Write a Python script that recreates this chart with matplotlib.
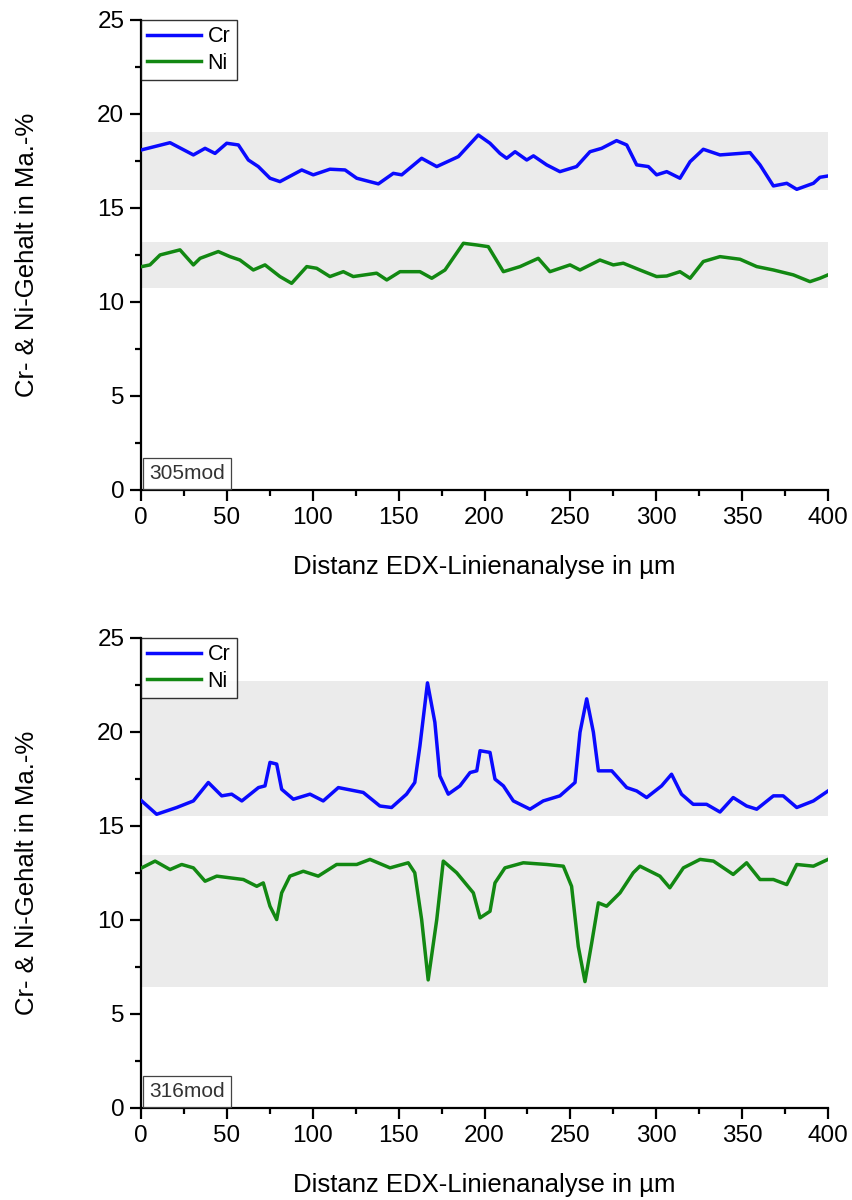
import matplotlib
matplotlib.use("Agg")
import matplotlib.pyplot as plt
from matplotlib.ticker import MultipleLocator

plt.rcParams['font.family'] = ['Liberation Sans', 'DejaVu Sans']

# ---- Data: 305mod (top) ----
x_cr_305 = [0.4, 16.9, 30.5, 37.3, 43.1, 49.9, 56.7, 62.5, 68.3, 75.1, 80.9, 93.6, 100.3, 110, 118.8,
            125.6, 138.2, 146.9, 151.8, 163.4, 172.2, 184.8, 196.4, 203.2, 209, 212.9, 217.8, 224.6,
            228.5, 236.2, 243.9, 253.6, 261.4, 268.2, 276.9, 282.8, 288.6, 295.4, 300.2, 306.1, 313.8,
            319.7, 327.4, 337.1, 348.8, 354.6, 360.4, 368.2, 376, 381.8, 391.5, 395.3, 400]
y_cr_305 = [18.09, 18.47, 17.82, 18.17, 17.9, 18.44, 18.35, 17.55, 17.2, 16.58, 16.4, 17.02, 16.76,
            17.06, 17.02, 16.58, 16.28, 16.84, 16.76, 17.64, 17.2, 17.73, 18.88, 18.44, 17.9, 17.64,
            17.99, 17.55, 17.77, 17.29, 16.93, 17.2, 17.99, 18.17, 18.58, 18.35, 17.29, 17.2, 16.76,
            16.93, 16.58, 17.46, 18.12, 17.82, 17.9, 17.94, 17.29, 16.17, 16.31, 15.99, 16.31, 16.63, 16.7]

x_ni_305 = [0.4, 5.2, 11.1, 22.7, 30.5, 34.4, 45, 51.8, 57.6, 65.4, 72.2, 80.9, 87.7, 96.5, 102.3,
            110, 117.8, 123.6, 137.2, 143.1, 150.8, 162.4, 169.3, 177, 187.7, 195.5, 202.2, 211,
            220.7, 231.3, 238.1, 249.8, 255.6, 267.2, 275, 280.8, 290.5, 300.2, 306.1, 313.8, 319.7,
            327.4, 337.1, 348.8, 358.5, 368.2, 379.8, 389.5, 395.3, 400]
y_ni_305 = [11.88, 11.97, 12.5, 12.77, 11.97, 12.32, 12.68, 12.41, 12.23, 11.7, 11.97, 11.35, 10.99,
            11.88, 11.79, 11.35, 11.61, 11.35, 11.53, 11.17, 11.61, 11.61, 11.26, 11.7, 13.12, 13.03,
            12.94, 11.61, 11.88, 12.32, 11.61, 11.97, 11.7, 12.23, 11.97, 12.06, 11.7, 11.35, 11.38,
            11.61, 11.26, 12.15, 12.41, 12.27, 11.88, 11.7, 11.44, 11.08, 11.26, 11.44]

# ---- Data: 316mod (bottom) ----
x_cr_316 = [0.4, 9.1, 20.8, 30.5, 39.2, 47, 52.8, 58.7, 68.4, 72.2, 75.1, 79, 81.9, 88.7, 98.4, 106.1,
            114.9, 129.4, 139.1, 145.9, 154.6, 159.4, 162.4, 166.8, 171.1, 174, 178.9, 185.7, 191.6,
            195.5, 197.4, 203.2, 206.1, 211, 216.8, 226.5, 234.2, 243.9, 252.7, 255.6, 259.5, 263.4,
            266.3, 274.1, 282.8, 288.6, 294.4, 303.1, 308.9, 314.7, 321.5, 329.3, 337.1, 344.8, 352.6,
            358.5, 368.2, 373.9, 381.8, 391.5, 400]
y_cr_316 = [16.33, 15.62, 15.98, 16.33, 17.31, 16.6, 16.69, 16.33, 17.04, 17.13, 18.38, 18.29, 16.95,
            16.42, 16.69, 16.33, 17.04, 16.78, 16.06, 15.98, 16.69, 17.31, 19.26, 22.61, 20.51, 17.66,
            16.69, 17.13, 17.84, 17.93, 19.0, 18.91, 17.49, 17.13, 16.33, 15.89, 16.33, 16.6, 17.31,
            19.98, 21.76, 19.98, 17.93, 17.93, 17.04, 16.86, 16.51, 17.13, 17.75, 16.69, 16.15, 16.15,
            15.74, 16.51, 16.06, 15.89, 16.6, 16.6, 15.98, 16.33, 16.86]

x_ni_316 = [0.4, 8.2, 16.9, 23.7, 30.5, 37.3, 44.1, 51.8, 59.6, 67.4, 71.2, 75.1, 79, 81.9, 86.7, 94.5,
            103.2, 113.9, 125.6, 133.3, 145, 155.6, 159.4, 163.4, 167.2, 172.2, 176, 183.8, 193.5,
            197.4, 203.2, 206.1, 211.9, 222.6, 236.2, 245.9, 250.7, 254.6, 258.5, 262.4, 266.3, 271.1,
            278.9, 286.6, 290.5, 302.1, 307.9, 315.8, 325.5, 333.3, 344.8, 352.6, 360.4, 368.2, 376,
            381.8, 391.5, 400]
y_ni_316 = [12.77, 13.13, 12.68, 12.95, 12.77, 12.06, 12.33, 12.24, 12.15, 11.79, 11.97, 10.73, 10.02,
            11.44, 12.33, 12.59, 12.33, 12.95, 12.95, 13.22, 12.77, 13.04, 12.51, 10.02, 6.81, 10.02,
            13.13, 12.51, 11.44, 10.11, 10.46, 11.97, 12.77, 13.04, 12.95, 12.86, 11.79, 8.59, 6.72,
            8.77, 10.91, 10.73, 11.44, 12.51, 12.86, 12.33, 11.71, 12.77, 13.22, 13.13, 12.42, 13.04,
            12.15, 12.15, 11.88, 12.95, 12.86, 13.22]

# grey range bands (low, high)
bands_305 = [(15.96, 19.06), (10.73, 13.2)]
bands_316 = [(15.53, 22.73), (6.46, 13.48)]
labels = ['305mod', '316mod']

CR_COLOR = '#0a0aff'
NI_COLOR = '#128812'

fig = plt.figure(figsize=(8.53, 12.0), dpi=100)
ax1 = fig.add_axes([0.1653, 0.5917, 0.8054, 0.3917])
ax2 = fig.add_axes([0.1653, 0.0767, 0.8054, 0.3917])

panels = [
    (ax1, x_cr_305, y_cr_305, x_ni_305, y_ni_305, bands_305, labels[0]),
    (ax2, x_cr_316, y_cr_316, x_ni_316, y_ni_316, bands_316, labels[1]),
]

for ax, xc, yc, xn, yn, bands, lab in panels:
    for lo, hi in bands:
        ax.fill_between([0, 400], [lo, lo], [hi, hi], color='#ebebeb', lw=0, zorder=0)
    ax.plot(xc, yc, color=CR_COLOR, lw=2.5, label='Cr', zorder=3)
    ax.plot(xn, yn, color=NI_COLOR, lw=2.5, label='Ni', zorder=3)
    ax.set_xlim(0, 400)
    ax.set_ylim(0, 25)
    ax.spines['top'].set_visible(False)
    ax.spines['right'].set_visible(False)
    for s in ('left', 'bottom'):
        ax.spines[s].set_linewidth(1.6)
    ax.xaxis.set_major_locator(MultipleLocator(50))
    ax.xaxis.set_minor_locator(MultipleLocator(25))
    ax.yaxis.set_major_locator(MultipleLocator(5))
    ax.yaxis.set_minor_locator(MultipleLocator(2.5))
    ax.tick_params(which='major', direction='out', length=8, width=1.6, labelsize=17.5, pad=4)
    ax.tick_params(which='minor', direction='out', length=4, width=1.6)
    xl = ax.set_xlabel('Distanz EDX-Linienanalyse in µm', fontsize=18.5)
    ax.xaxis.set_label_coords(0.5, -0.163)
    xl.set_va('center')
    yl = ax.set_ylabel('Cr- & Ni-Gehalt in Ma.-%', fontsize=18.5)
    ax.yaxis.set_label_coords(-0.166, 0.5)
    yl.set_va('center')
    leg = ax.legend(loc='upper left', bbox_to_anchor=(0, 1), frameon=True, fancybox=False,
                    fontsize=15.5, handlelength=2.5, handletextpad=0.3, borderpad=0.3,
                    labelspacing=0.25, borderaxespad=0)
    leg.get_frame().set_edgecolor('black')
    leg.get_frame().set_linewidth(1.0)
    ax.text(0.012, 0.015, lab, transform=ax.transAxes, fontsize=15, ha='left', va='bottom',
            color='#333333',
            bbox=dict(boxstyle='square,pad=0.3', fc='white', ec='#444444', lw=0.9))

fig.savefig('out.png', dpi=100)
